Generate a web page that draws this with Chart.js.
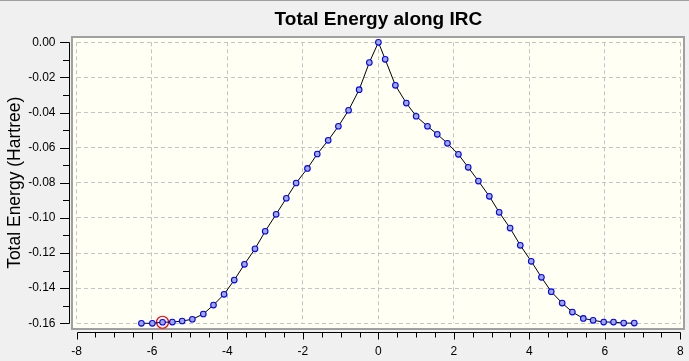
<!DOCTYPE html>
<html><head><meta charset="utf-8">
<script src="https://cdn.jsdelivr.net/npm/chart.js@4"></script>
<style>html,body{margin:0;padding:0;background:#f0f0f0;overflow:hidden}canvas{display:block}</style>
</head><body>
<canvas id="c" width="689" height="361"></canvas>
<script>
const ircCoords = [-6.28,-5.99,-5.72,-5.46,-5.20,-4.93,-4.64,-4.37,-4.09,-3.82,-3.55,-3.27,-3.00,-2.71,-2.44,-2.18,-1.88,-1.62,-1.33,-1.06,-0.79,-0.51,-0.24,0.00,
  0.18,0.45,0.74,1.00,1.30,1.56,1.83,2.12,2.38,2.65,2.94,3.20,3.49,3.76,4.05,4.32,4.58,4.87,5.14,5.43,5.69,5.97,6.23,6.50,6.78];
const totalEnergies = [-0.1600,-0.1600,-0.1594,-0.1593,-0.1587,-0.1577,-0.1547,-0.1496,-0.1435,-0.1354,-0.1264,-0.1176,-0.1076,-0.0979,-0.0888,-0.0801,-0.0718,-0.0636,-0.0558,-0.0478,-0.0387,-0.0270,-0.0115,0.0000,
  -0.0097,-0.0245,-0.0346,-0.0421,-0.0478,-0.0524,-0.0575,-0.0638,-0.0712,-0.0790,-0.0877,-0.0968,-0.1058,-0.1156,-0.1247,-0.1338,-0.1420,-0.1485,-0.1536,-0.1572,-0.1583,-0.1593,-0.1593,-0.1599,-0.1599];
const xTickValues = [-8,-6,-4,-2,0,2,4,6,8];
const yTickValues = [0,-0.02,-0.04,-0.06,-0.08,-0.10,-0.12,-0.14,-0.16];
const currentPoint = 2;
const chartTitle = 'Total Energy along IRC';
const yAxisTitle = 'Total Energy (Hartree)';

const FONT = "'Liberation Sans', Arial, sans-serif";

const framePlugin = {
  id: 'frame',
  beforeDraw(chart) {
    const ctx = chart.ctx;
    ctx.save();
    ctx.fillStyle = '#f0f0f0';
    ctx.fillRect(0, 0, chart.width, chart.height);
    ctx.fillStyle = '#a0a0a0';
    ctx.fillRect(0, 0, chart.width, 1);
    const fl = 72, ft = 37, fr = 684, fb = 329;
    ctx.fillStyle = '#fffff4';
    ctx.fillRect(fl, ft, fr - fl, fb - ft);
    ctx.strokeStyle = '#a0a0a0';
    ctx.lineWidth = 2;
    ctx.strokeRect(fl, ft, fr - fl, fb - ft);

    const xs = chart.scales.x, ys = chart.scales.y;
    ctx.strokeStyle = '#000';
    ctx.lineWidth = 1;
    ctx.beginPath();
    const ax = 69.5;
    const yTop = Math.round(ys.getPixelForValue(yTickValues[0])) + 0.5;
    const yBot = Math.round(ys.getPixelForValue(yTickValues[yTickValues.length - 1])) + 0.5;
    ctx.moveTo(ax, yTop); ctx.lineTo(ax, yBot);
    for (let i = 0; i < yTickValues.length; i++) {
      const p = Math.round(ys.getPixelForValue(yTickValues[i])) + 0.5;
      ctx.moveTo(60, p); ctx.lineTo(ax, p);
      if (i < yTickValues.length - 1) {
        const m = Math.round(ys.getPixelForValue((yTickValues[i] + yTickValues[i + 1]) / 2)) + 0.5;
        ctx.moveTo(63, m); ctx.lineTo(ax, m);
      }
    }
    const ay = 332.5;
    const xL = Math.round(xs.getPixelForValue(xTickValues[0])) + 0.5;
    const xR = Math.round(xs.getPixelForValue(xTickValues[xTickValues.length - 1])) + 0.5;
    ctx.moveTo(xL, ay); ctx.lineTo(xR, ay);
    for (let i = 0; i < xTickValues.length; i++) {
      const p = Math.round(xs.getPixelForValue(xTickValues[i])) + 0.5;
      ctx.moveTo(p, ay); ctx.lineTo(p, ay + 7);
      if (i < xTickValues.length - 1) {
        const step = (xTickValues[i + 1] - xTickValues[i]) / 4;
        for (let k = 1; k < 4; k++) {
          const m = Math.round(xs.getPixelForValue(xTickValues[i] + k * step)) + 0.5;
          ctx.moveTo(m, ay); ctx.lineTo(m, ay + 5);
        }
      }
    }
    ctx.stroke();
    ctx.restore();
  }
};

new Chart(document.getElementById('c'), {
  type: 'scatter',
  data: {
    datasets: [
      {
        data: ircCoords.map((x, i) => ({x: x, y: totalEnergies[i]})),
        showLine: true,
        borderColor: '#000000',
        borderWidth: 1,
        tension: 0,
        pointRadius: 2.8,
        pointBorderWidth: 1.1,
        pointBackgroundColor: '#a2abd8',
        pointBorderColor: '#0000ff',
        clip: false
      },
      {
        data: [{x: ircCoords[currentPoint], y: totalEnergies[currentPoint]}],
        showLine: false,
        pointRadius: 6,
        pointBorderWidth: 1.2,
        pointBackgroundColor: 'rgba(0,0,0,0)',
        pointBorderColor: '#ff0000',
        clip: false
      }
    ]
  },
  options: {
    responsive: false,
    animation: false,
    devicePixelRatio: 1,
    layout: {padding: {top: 0, left: 0, right: 8.7, bottom: 0}},
    plugins: {
      legend: {display: false},
      tooltip: {enabled: false},
      title: {
        display: true,
        text: chartTitle,
        fullSize: false,
        color: '#000',
        font: {family: FONT, size: 19, weight: 'bold', lineHeight: 1.2},
        padding: {top: 8, bottom: 11.5}
      }
    },
    scales: {
      x: {
        type: 'linear',
        min: -8, max: 8,
        afterBuildTicks: s => { s.ticks = xTickValues.map(v => ({value: v})); },
        afterFit: s => { s.height = 37.7; s.paddingLeft = 0; s.paddingRight = 0; },
        grid: {color: '#c4c4c4', lineWidth: 1, drawTicks: false},
        border: {display: false, dash: [4, 3]},
        ticks: {
          color: '#000', padding: 21, maxRotation: 0, autoSkip: false,
          font: {family: FONT, size: 12},
          callback: v => String(v)
        }
      },
      y: {
        type: 'linear',
        min: -0.16, max: 0,
        afterBuildTicks: s => { s.ticks = yTickValues.map(v => ({value: v})); },
        afterFit: s => { s.width = 76.5; s.paddingTop = 0; s.paddingBottom = 0; },
        grid: {color: '#c4c4c4', lineWidth: 1, drawTicks: false},
        border: {display: false, dash: [4, 3]},
        ticks: {
          color: '#000', padding: 21, autoSkip: false,
          font: {family: FONT, size: 12},
          callback: v => (Math.abs(v) < 1e-9 ? 0 : v).toFixed(2)
        },
        title: {
          display: true,
          text: yAxisTitle,
          color: '#000',
          font: {family: FONT, size: 17.5, lineHeight: 1.2},
          padding: {top: 4.5, bottom: 0}
        }
      }
    }
  },
  plugins: [framePlugin]
});
</script>
</body></html>
